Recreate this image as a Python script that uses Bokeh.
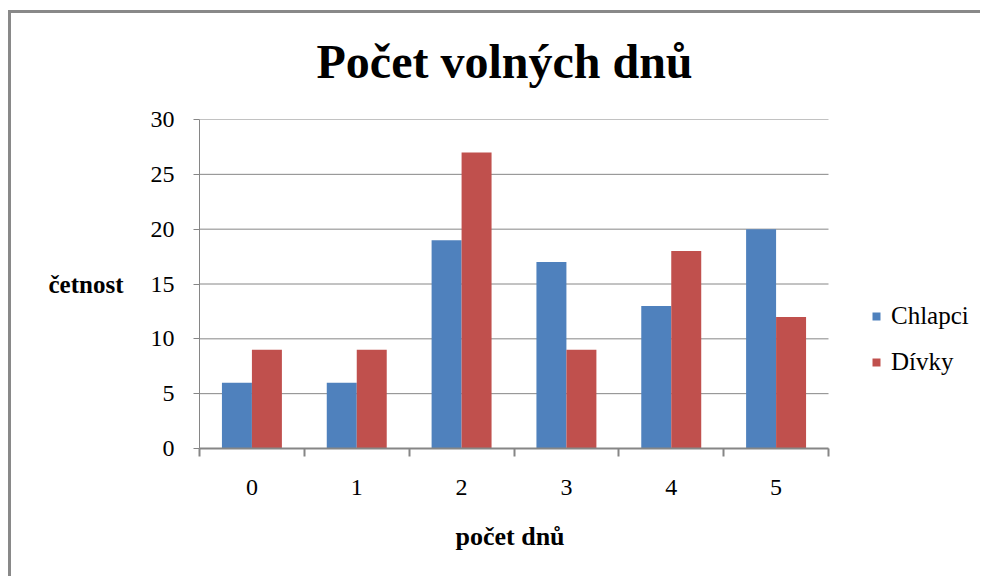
import numpy as np
from bokeh.plotting import figure
from bokeh.models import (ColumnDataSource, FixedTicker, Legend, LegendItem, Range1d, Title)
from bokeh.embed import file_html
from bokeh.resources import INLINE

categories = ["0", "1", "2", "3", "4", "5"]
chlapci = [6, 6, 19, 17, 13, 20]
divky = [9, 9, 27, 9, 18, 12]
series_names = ["Chlapci", "Dívky"]
colors = ["#4F81BD", "#C0504D"]
y_ticks = [0, 5, 10, 15, 20, 25, 30]

FONT = "Liberation Serif"
GRAY = "#868686"

n = len(categories)
centers = np.arange(n) + 0.5
bw = 0.286

src = ColumnDataSource(dict(
    xb=centers - bw / 2, xr=centers + bw / 2,
    chlapci=chlapci, divky=divky,
))

W, H = 980, 576
# the frame extends to the right edge so the legend sits inside it;
# the category axis only occupies [0, n]
x_end = n * (W - 199) / 629

p = figure(width=W, height=H, output_backend="svg", toolbar_location=None,
           x_range=Range1d(0, x_end), y_range=Range1d(0, 30),
           min_border_left=199, min_border_right=0,
           min_border_top=119, min_border_bottom=H - 448,
           styles={"background-image": "linear-gradient(#898989, #898989), linear-gradient(#898989, #898989)",
                   "background-repeat": "no-repeat",
                   "background-size": "980px 3px, 3px 580px",
                   "background-position": "8px 10px, 8px 10px"})
p.outline_line_color = None
p.background_fill_color = "white"
p.border_fill_color = None

# horizontal gridlines limited to the category span
p.segment(x0=[0] * len(y_ticks), x1=[n] * len(y_ticks), y0=y_ticks, y1=y_ticks,
          line_color=GRAY, line_width=1)

rb = p.vbar(x="xb", top="chlapci", width=bw, source=src, color=colors[0], line_color=None)
rr = p.vbar(x="xr", top="divky", width=bw, source=src, color=colors[1], line_color=None)

# title
p.title = Title(text="Počet volných dnů", align="left", vertical_align="bottom",
                text_font=FONT, text_font_size="48px", text_font_style="bold",
                text_color="black", offset=117, standoff=64)

# x axis
xa = p.xaxis[0]
xa.bounds = (0, n)
xa.ticker = FixedTicker(ticks=list(centers), minor_ticks=list(range(n + 1)))
xa.major_label_overrides = {float(c): lab for c, lab in zip(centers, categories)}
xa.major_tick_out = 0
xa.major_tick_in = 0
xa.major_tick_line_color = None
xa.minor_tick_out = 8
xa.minor_tick_in = 0
xa.minor_tick_line_color = GRAY
xa.minor_tick_line_width = 2
xa.axis_line_color = GRAY
xa.axis_line_width = 2
xa.major_label_text_font = FONT
xa.major_label_text_font_size = "24px"
xa.major_label_text_color = "black"
xa.major_label_standoff = 23

x_title = Title(text="počet dnů", align="left", vertical_align="top",
                text_font=FONT, text_font_size="26px", text_font_style="bold",
                text_color="black", offset=256, standoff=48)
p.add_layout(x_title, "below")

# y axis
ya = p.yaxis[0]
ya.bounds = (0, 30)
ya.ticker = FixedTicker(ticks=y_ticks)
ya.major_tick_out = 6
ya.major_tick_in = 0
ya.minor_tick_out = 0
ya.minor_tick_in = 0
ya.major_tick_line_color = GRAY
ya.axis_line_color = GRAY
ya.major_label_text_font = FONT
ya.major_label_text_font_size = "24px"
ya.major_label_text_color = "black"
ya.major_label_standoff = 19
ya.axis_label = "četnost"
ya.axis_label_orientation = "horizontal"
ya.axis_label_text_font = FONT
ya.axis_label_text_font_size = "25px"
ya.axis_label_text_font_style = "bold"
ya.axis_label_text_color = "black"
ya.axis_label_standoff = 24

p.xgrid.grid_line_color = None
p.ygrid.grid_line_color = None

legend = Legend(items=[LegendItem(label=series_names[0], renderers=[rb]),
                       LegendItem(label=series_names[1], renderers=[rr])],
                location=(672, 72), orientation="vertical",
                label_text_font=FONT, label_text_font_size="25px", label_text_color="black",
                glyph_width=10, glyph_height=10, label_standoff=10,
                spacing=18, padding=0, margin=0,
                border_line_color=None, background_fill_alpha=0)
p.add_layout(legend, "center")

open("out.html", "w").write(file_html(p, INLINE))
